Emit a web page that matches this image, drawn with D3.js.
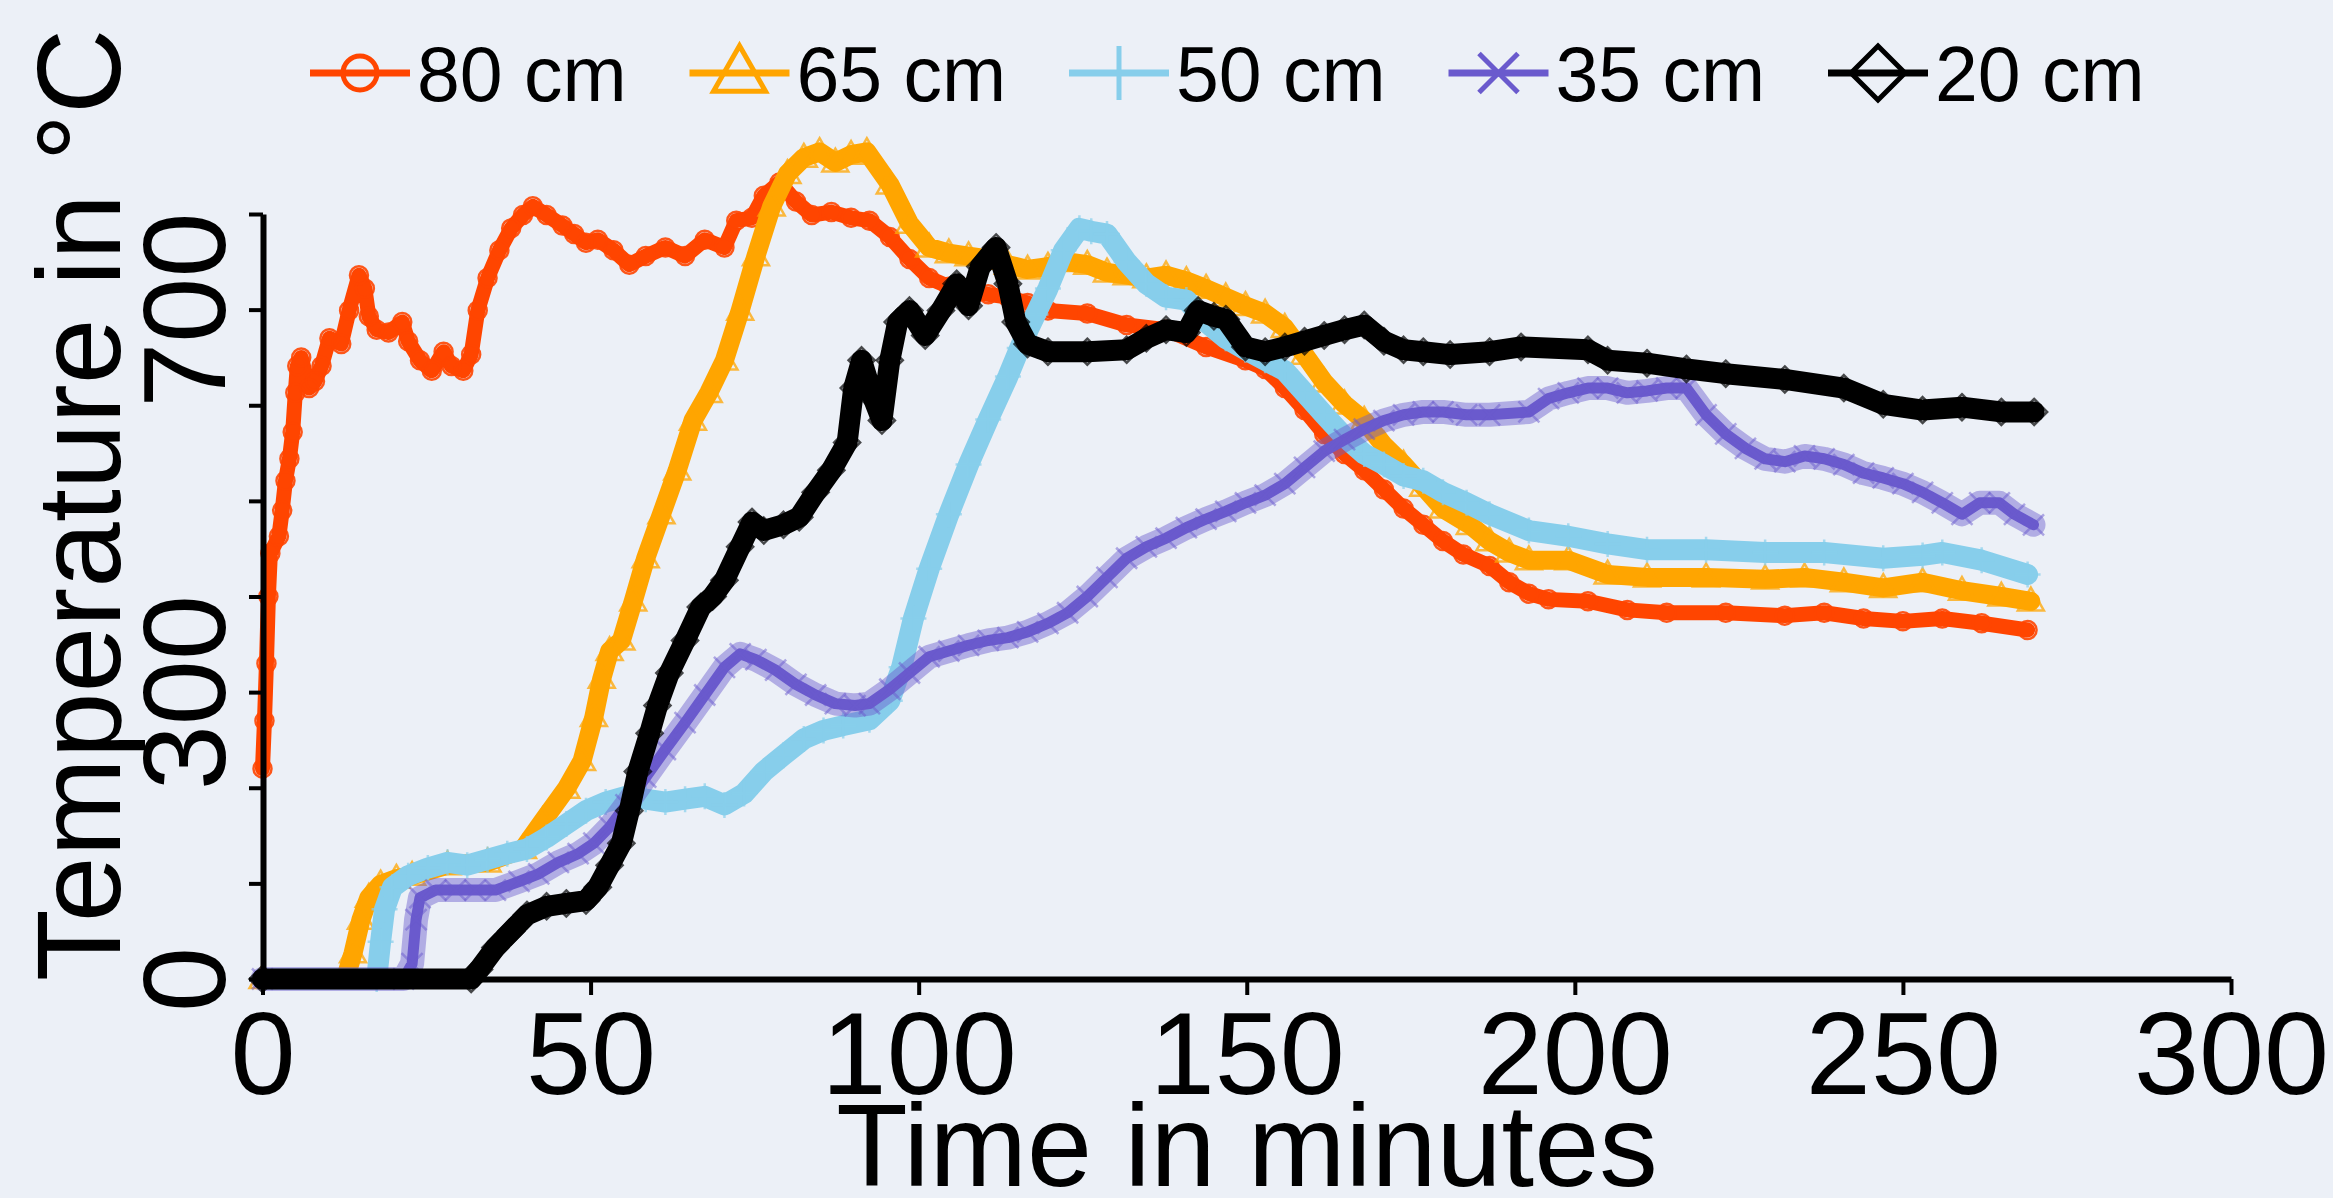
<!DOCTYPE html>
<html>
<head>
<meta charset="utf-8">
<script src="https://cdn.jsdelivr.net/npm/d3@7"></script>
<style>
  html, body { margin: 0; padding: 0; background: #ecf0f7; }
  svg { display: block; }
  text { font-family: "Liberation Sans", Arial, sans-serif; fill: #000; }
</style>
</head>
<body>
<svg id="chart" width="2333" height="1198"></svg>
<script>
// data: [time in minutes, temperature in °C]
var s80 = [[0,220],[0.3,270],[0.6,330],[0.9,400],[1.2,445],[2.5,463],[3,490],[3.5,521],[4.1,544],[4.6,572],[5,613],[5.3,641],[5.9,650],[7.1,618],[8,625],[9,641],[10.2,670],[12,664],[13.2,699],[14.7,736],[15.6,722],[16.2,693],[17.4,679],[19.2,676],[21.3,687],[22.2,667],[24,647],[25.8,636],[27.6,656],[28.8,641],[30.6,636],[31.8,653],[32.8,699],[34.3,733],[36.1,762],[37.9,785],[39.7,799],[41.2,808],[43.3,799],[45.7,788],[47.5,779],[49.3,770],[51.1,773],[53.5,762],[55.9,747],[58.4,756],[61.4,765],[64.4,756],[67.4,773],[70.4,765],[72.2,793],[74.6,796],[76.4,819],[78.8,833],[81.3,813],[83.7,799],[86.7,802],[89.7,796],[92.5,793],[95.6,776],[98.6,753],[101.6,733],[104.6,724],[107.6,719],[110.6,716],[113.6,713],[116.6,707],[119.7,699],[125.7,696],[131.7,684],[137.7,679],[143.8,661],[149.8,647],[152.8,638],[155.8,618],[158.8,595],[161.8,570],[164.9,549],[167.9,532],[170.9,512],[173.9,492],[176.9,475],[179.9,458],[183,444],[187,432],[190,415],[193,403],[196,397],[202,395],[208,386],[214,383],[223,383],[232,380],[238,383],[244,377],[250,374],[256,377],[262,372],[269,365]];

var s65 = [[0,0],[12.6,0],[13.8,27],[15,62],[16.2,85],[18,99],[20.4,105],[22.8,108],[28.2,119],[34.3,122],[39.7,136],[42.7,165],[46.3,199],[48.7,228],[50.5,274],[51.7,314],[52.9,343],[54.7,354],[56.5,395],[58.4,440],[60.8,486],[63.2,532],[65.6,584],[68,613],[70.4,647],[72.8,699],[75.2,756],[77.6,808],[80,842],[82.5,859],[84.9,865],[87.3,854],[89.7,862],[92.1,865],[95.6,831],[98.6,790],[101.6,765],[104.6,759],[107.6,756],[110.6,753],[113.6,747],[116.6,742],[119.7,745],[122.7,750],[125.7,747],[128.7,739],[131.7,736],[134.7,733],[137.7,736],[140.8,730],[143.8,722],[146.8,713],[149.8,704],[152.8,696],[155.8,681],[158.8,653],[161.8,624],[164.9,601],[167.9,584],[170.9,558],[173.9,538],[176.9,515],[179.9,492],[184,475],[187,458],[190,446],[193,438],[199,438],[205,423],[211,420],[220,420],[229,418],[235,420],[241,415],[247,409],[253,415],[259,406],[265,400],[269.5,395]];

var s50 = [[0,0],[17.4,0],[18,39],[18.6,73],[19.8,96],[22.2,108],[25.2,116],[28.2,122],[31.2,119],[34.3,125],[37.3,131],[40.3,136],[43.3,148],[46.3,162],[49.3,176],[52.3,185],[55.4,191],[58.4,188],[61.4,185],[64.4,188],[67.4,191],[70.4,182],[73.4,194],[76.4,217],[79.4,234],[82.5,251],[85.5,260],[88.5,265],[92.5,271],[95.6,291],[97.4,326],[99.2,377],[101.6,429],[104.6,486],[107.6,538],[110.6,585],[113.6,630],[115.4,660],[117.8,695],[119.7,722],[122.1,762],[124.5,785],[126.3,782],[128.7,779],[131.7,750],[134.7,727],[137.7,713],[140.8,710],[143.8,687],[146.8,670],[149.8,658],[152.8,647],[155.8,636],[158.8,613],[161.8,590],[164.9,567],[167.9,549],[170.9,538],[173.9,526],[176.9,521],[179.9,509],[183.5,498],[187,486],[193,469],[199,463],[205,455],[211,449],[220,449],[229,446],[238,446],[247,440],[253,443],[256,446],[262,438],[269,423]];

var s35 = [[0,0],[21.5,0],[22.8,16],[23.4,62],[24,85],[26.4,93],[29.4,93],[32.4,93],[35.5,93],[39.1,102],[42.1,110],[45.1,122],[48.1,131],[50.5,142],[52.9,159],[55.4,182],[58.4,211],[61.4,240],[64.4,268],[67.4,297],[70.4,326],[72.8,340],[75.2,334],[78.2,323],[81.3,308],[84.3,297],[87.3,288],[90.3,286],[92.5,288],[95.6,303],[98.6,320],[101.6,337],[104.6,343],[107.6,349],[110.6,354],[113.6,357],[116.6,363],[119.7,372],[122.7,383],[125.7,400],[128.7,420],[131.7,440],[134.7,452],[137.7,461],[140.8,472],[143.8,481],[146.8,489],[149.8,498],[152.8,506],[155.8,518],[158.8,535],[161.8,552],[164.9,564],[167.9,575],[170.9,584],[173.9,590],[176.9,593],[179.9,593],[183.5,590],[187,590],[193,593],[196,607],[199,613],[202,618],[205,618],[208,613],[211,615],[214,618],[217,618],[220,590],[223,570],[226,555],[229,544],[232,541],[235,547],[238,544],[241,538],[244,529],[247,524],[250,518],[253,509],[256,498],[259,486],[261.7,498],[264.7,498],[267,486],[269.9,475]];

var s20 = [[0,0],[31.8,0],[33,10],[35.5,33],[37.9,50],[40.3,67],[43.3,76],[46.3,79],[49.3,82],[51.1,96],[52.9,119],[54.7,142],[55.9,176],[57.2,217],[59,257],[60.2,286],[62,320],[64.4,354],[66.8,389],[68.6,400],[70.4,417],[72.8,452],[74.6,478],[76.4,469],[79.4,475],[81.8,483],[84.3,509],[86.7,532],[89.1,561],[90.1,618],[91.3,647],[93.1,607],[94.4,584],[95.6,647],[96.8,687],[98.6,699],[101,673],[103.4,699],[105.8,727],[107.6,704],[109.4,745],[111.8,765],[113.6,727],[114.8,687],[116.6,664],[119.7,656],[125.7,656],[131.7,658],[134.7,670],[137.7,679],[140.8,676],[142.6,699],[145,693],[146.8,690],[149.8,661],[152.8,656],[155.8,661],[158.8,667],[161.8,673],[164.9,679],[167.9,684],[170.9,667],[173.9,658],[176.9,656],[181,653],[187,656],[191.8,661],[202,658],[205,647],[211,644],[217,638],[223,633],[232,627],[241,618],[247,601],[253,595],[259,598],[265,593],[270,593]];

var seriesNames = ["80 cm", "65 cm", "50 cm", "35 cm", "20 cm"];
var seriesColors = ["#ff4500", "#ffa500", "#87ceeb", "#6a5acd", "#000000"];
var seriesShapes = ["circle", "triangle", "plus", "x", "diamond"];
var seriesData = [s80, s65, s50, s35, s20];

var xTicks = [0, 50, 100, 150, 200, 250, 300];
var yTicks = [0, 100, 200, 300, 400, 500, 600, 700, 800];
var yLabels = [0, 300, 700];

var svg = d3.select("#chart");

svg.append("rect")
    .attr("width", 2333)
    .attr("height", 1198)
    .attr("fill", "#ecf0f7");

var x = d3.scaleLinear().domain([0, 300]).range([262.5, 2231]);
var y = d3.scaleLinear().domain([0, 800]).range([979, 214]);

// marker shapes, centred on 0,0
function markerPath(shape, r) {
    var p = d3.path();
    if (shape == "circle") {
	p.moveTo(r, 0);
	p.arc(0, 0, r, 0, 2 * Math.PI);
    } else if (shape == "triangle") {
	p.moveTo(0, -r * 1.05);
	p.lineTo(r * 1.0, r * 0.7);
	p.lineTo(-r * 1.0, r * 0.7);
	p.closePath();
    } else if (shape == "plus") {
	p.moveTo(-r, 0); p.lineTo(r, 0);
	p.moveTo(0, -r); p.lineTo(0, r);
    } else if (shape == "x") {
	var k = r * 0.75;
	p.moveTo(-k, -k); p.lineTo(k, k);
	p.moveTo(-k, k); p.lineTo(k, -k);
    } else {
	p.moveTo(0, -r); p.lineTo(r, 0); p.lineTo(0, r); p.lineTo(-r, 0);
	p.closePath();
    }
    return p.toString();
}

// the picture's bands come from densely overplotted symbols
var haloWidths = [0, 0, 0, 24, 0];
var lineWidths = [15, 19, 21, 11, 21];
var markerSizes = [9, 13, 13, 14, 13];
var markerOpacity = [0.9, 0.75, 0.7, 0.5, 0.7];

var line = d3.line()
    .x(function(d){ return x(d[0]); })
    .y(function(d){ return y(d[1]); });

var plot = svg.append("g").attr("id", "series");

seriesData.forEach(function(data, i) {
    var g = plot.append("g");
    if (haloWidths[i] > 0) {
	g.append("path")
	    .datum(data)
	    .attr("d", line)
	    .attr("fill", "none")
	    .attr("stroke", seriesColors[i])
	    .attr("stroke-opacity", 0.45)
	    .attr("stroke-width", haloWidths[i])
	    .attr("stroke-linejoin", "round")
	    .attr("stroke-linecap", "round");
    }
    g.append("path")
	.datum(data)
	.attr("d", line)
	.attr("fill", "none")
	.attr("stroke", seriesColors[i])
	.attr("stroke-width", lineWidths[i])
	.attr("stroke-linejoin", "round")
	.attr("stroke-linecap", "round");
    g.selectAll(".mk")
	.data(data)
	.enter().append("path")
	.attr("class", "mk")
	.attr("transform", function(d){ return "translate(" + x(d[0]) + "," + y(d[1]) + ")"; })
	.attr("d", markerPath(seriesShapes[i], markerSizes[i]))
	.attr("fill", "none")
	.attr("stroke", seriesColors[i])
	.attr("stroke-opacity", markerOpacity[i])
	.attr("stroke-width", 2.5);
});

// x axis
var xAxis = svg.append("g")
    .attr("transform", "translate(0,979)")
    .call(d3.axisBottom(x).tickValues(xTicks).tickSize(16).tickSizeOuter(0).tickFormat(d3.format("d")));
xAxis.select(".domain").attr("stroke", "#000").attr("stroke-width", 6);
xAxis.selectAll(".tick line").attr("stroke", "#000").attr("stroke-width", 4);
xAxis.selectAll(".tick text")
    .attr("y", 115)
    .attr("dy", null)
    .attr("font-size", 117)
    .attr("font-family", "Liberation Sans, Arial, sans-serif")
    .attr("fill", "#000");

// y axis, labels rotated like R's default
var yAxis = svg.append("g")
    .attr("transform", "translate(263,0)")
    .call(d3.axisLeft(y).tickValues(yTicks).tickSize(14).tickSizeOuter(0)
	  .tickFormat(function(d){ return yLabels.indexOf(d) >= 0 ? d : ""; }));
yAxis.select(".domain").attr("stroke", "#000").attr("stroke-width", 6);
yAxis.selectAll(".tick line").attr("stroke", "#000").attr("stroke-width", 4);
yAxis.selectAll(".tick text")
    .attr("x", 0)
    .attr("dy", null)
    .attr("text-anchor", "middle")
    .attr("transform", "translate(-38,0) rotate(-90)")
    .attr("font-size", 117)
    .attr("font-family", "Liberation Sans, Arial, sans-serif")
    .attr("fill", "#000");

// axis titles
svg.append("text")
    .attr("x", 1247)
    .attr("y", 1186)
    .attr("text-anchor", "middle")
    .attr("font-size", 117)
    .text("Time in minutes");

svg.append("text")
    .attr("transform", "translate(120,505) rotate(-90)")
    .attr("text-anchor", "middle")
    .attr("font-size", 118)
    .text("Temperature in °C");

// legend across the top
var legendMarkers = [17, 26, 27, 26, 27];
var legend = svg.append("g").attr("id", "legend")
    .selectAll("g")
    .data(seriesNames)
    .enter().append("g")
    .attr("transform", function(d, i){ return "translate(" + (360 + i * 379.5) + ",73)"; });

legend.append("line")
    .attr("x1", -50).attr("x2", 50)
    .attr("stroke", function(d, i){ return seriesColors[i]; })
    .attr("stroke-width", 7);

legend.append("path")
    .attr("d", function(d, i){ return markerPath(seriesShapes[i], legendMarkers[i]); })
    .attr("fill", "none")
    .attr("stroke", function(d, i){ return seriesColors[i]; })
    .attr("stroke-width", 5);

legend.append("text")
    .attr("x", 57)
    .attr("y", 28)
    .attr("font-size", 77)
    .text(function(d){ return d; });
</script>
</body>
</html>
